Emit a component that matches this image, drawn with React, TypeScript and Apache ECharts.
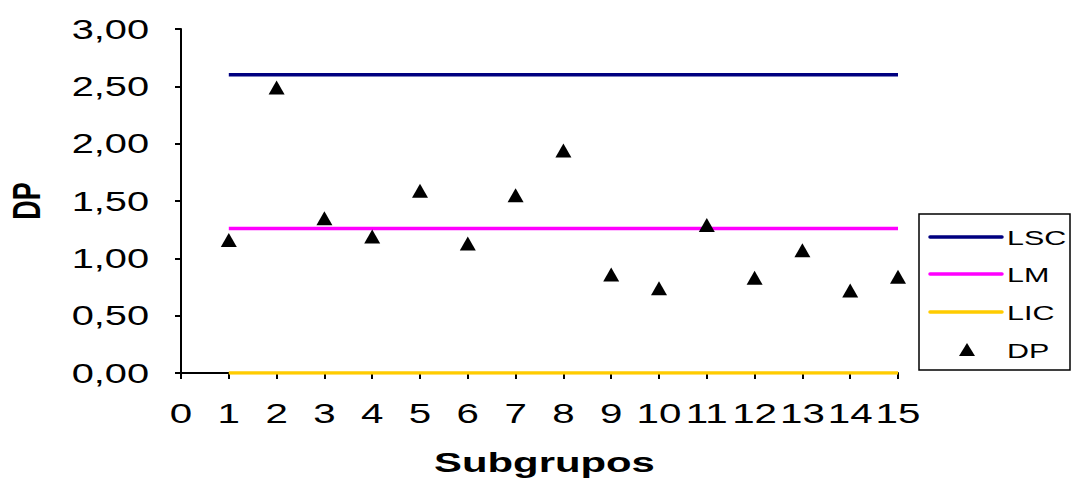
import React, { useEffect, useRef } from "react";
import * as echarts from "echarts";

const subgrupos = [1, 2, 3, 4, 5, 6, 7, 8, 9, 10, 11, 12, 13, 14, 15];
const dpValues = [1.16, 2.49, 1.35, 1.19, 1.59, 1.13, 1.55, 1.94, 0.86, 0.74, 1.29, 0.83, 1.07, 0.72, 0.84];
const lscValue = 2.6;
const lmValue = 1.26;
const licValue = 0;
const xTickValues = [0, 1, 2, 3, 4, 5, 6, 7, 8, 9, 10, 11, 12, 13, 14, 15];
const yTickValues = [0, 0.5, 1, 1.5, 2, 2.5, 3];
const legendNames = ["LSC", "LM", "LIC", "DP"];
const lineColors = ["#000080", "#ff00ff", "#ffcc00"];

const FONT = "'Liberation Sans', Arial, sans-serif";
const SX = 1.44;

export default function App() {
  const ref = useRef<HTMLDivElement>(null);
  useEffect(() => {
    if (!ref.current) return;
    const chart = echarts.init(ref.current, undefined, { renderer: "svg" });
    const constLine = (name: string, v: number, color: string) => ({
      name,
      type: "line",
      data: subgrupos.map((x) => [x, v]),
      symbol: "none",
      lineStyle: { color, width: 3.5 },
      itemStyle: { color },
      z: 2,
    });
    chart.setOption({
      animation: false,
      backgroundColor: "#ffffff",
      textStyle: { fontFamily: FONT },
      grid: { left: 181, right: 174, top: 29, bottom: 105, containLabel: false },
      xAxis: {
        type: "value",
        min: 0,
        max: 15,
        interval: 1,
        axisLine: { show: true, lineStyle: { color: "#000", width: 2 } },
        axisTick: { show: true, length: 6, lineStyle: { color: "#000", width: 2 } },
        axisLabel: { show: false },
        splitLine: { show: false },
      },
      yAxis: {
        type: "value",
        min: 0,
        max: 3,
        interval: 0.5,
        axisLine: { show: true, lineStyle: { color: "#000", width: 2 } },
        axisTick: { show: true, length: 6, lineStyle: { color: "#000", width: 2 } },
        axisLabel: { show: false },
        splitLine: { show: false },
      },
      legend: { show: false },
      series: [
        constLine("LSC", lscValue, lineColors[0]),
        constLine("LM", lmValue, lineColors[1]),
        constLine("LIC", licValue, lineColors[2]),
        {
          name: "DP",
          type: "scatter",
          data: subgrupos.map((x, i) => [x, dpValues[i]]),
          symbol: "triangle",
          symbolSize: [16, 14],
          itemStyle: { color: "#000", opacity: 1 },
          z: 5,
        },
      ],
    });

    const graphics: any[] = [];
    // y tick labels
    yTickValues.forEach((v) => {
      const p = chart.convertToPixel({ gridIndex: 0 }, [0, v]) as number[];
      graphics.push({
        type: "text",
        x: p[0] - 32,
        y: p[1],
        scaleX: 1.42,
        style: {
          text: v.toFixed(2).replace(".", ","),
          align: "right",
          verticalAlign: "middle",
          font: `28px ${FONT}`,
          fill: "#000",
        },
      });
    });
    // x tick labels
    xTickValues.forEach((v) => {
      const p = chart.convertToPixel({ gridIndex: 0 }, [v, 0]) as number[];
      graphics.push({
        type: "text",
        x: p[0],
        y: p[1] + 40,
        scaleX: SX,
        style: {
          text: String(v),
          align: "center",
          verticalAlign: "middle",
          font: `28px ${FONT}`,
          fill: "#000",
        },
      });
    });
    // axis names
    const pMid0 = chart.convertToPixel({ gridIndex: 0 }, [0, 1.5]) as number[];
    const pMidX = chart.convertToPixel({ gridIndex: 0 }, [7.5, 0]) as number[];
    graphics.push({
      type: "text",
      x: pMidX[0] + 5,
      y: pMidX[1] + 89,
      scaleX: 1.55,
      style: {
        text: "Subgrupos",
        align: "center",
        verticalAlign: "middle",
        font: `bold 27px ${FONT}`,
        fill: "#000",
      },
    });
    graphics.push({
      type: "text",
      x: 27,
      y: pMid0[1],
      rotation: Math.PI / 2,
      scaleY: 1.45,
      style: {
        text: "DP",
        align: "center",
        verticalAlign: "middle",
        font: `bold 27px ${FONT}`,
        fill: "#000",
      },
    });
    // legend
    const lgX = 919;
    const lgY = 214;
    const rowYs = [23, 60, 98, 136];
    const legendChildren: any[] = [
      {
        type: "rect",
        shape: { x: 0, y: 0, width: 151, height: 156 },
        style: { fill: "#fff", stroke: "#000", lineWidth: 1.5 },
      },
    ];
    legendNames.forEach((name, i) => {
      const ry = rowYs[i];
      if (i < 3) {
        legendChildren.push({
          type: "line",
          shape: { x1: 11, y1: ry, x2: 83, y2: ry },
          style: { stroke: lineColors[i], lineWidth: 3.5, lineCap: "round" },
        });
      } else {
        legendChildren.push({
          type: "polygon",
          shape: { points: [[48, ry - 7], [56, ry + 6], [40, ry + 6]] },
          style: { fill: "#000" },
        });
      }
      legendChildren.push({
        type: "text",
        x: 88,
        y: ry + 1,
        scaleX: 1.45,
        style: {
          text: name,
          align: "left",
          verticalAlign: "middle",
          font: `21px ${FONT}`,
          fill: "#000",
        },
      });
    });
    graphics.push({ type: "group", x: lgX, y: lgY, children: legendChildren });

    chart.setOption({ graphic: graphics });
    return () => chart.dispose();
  }, []);
  return (
    <div
      ref={ref}
      style={{ position: "fixed", left: 0, top: 0, width: 1072, height: 478 }}
    />
  );
}
